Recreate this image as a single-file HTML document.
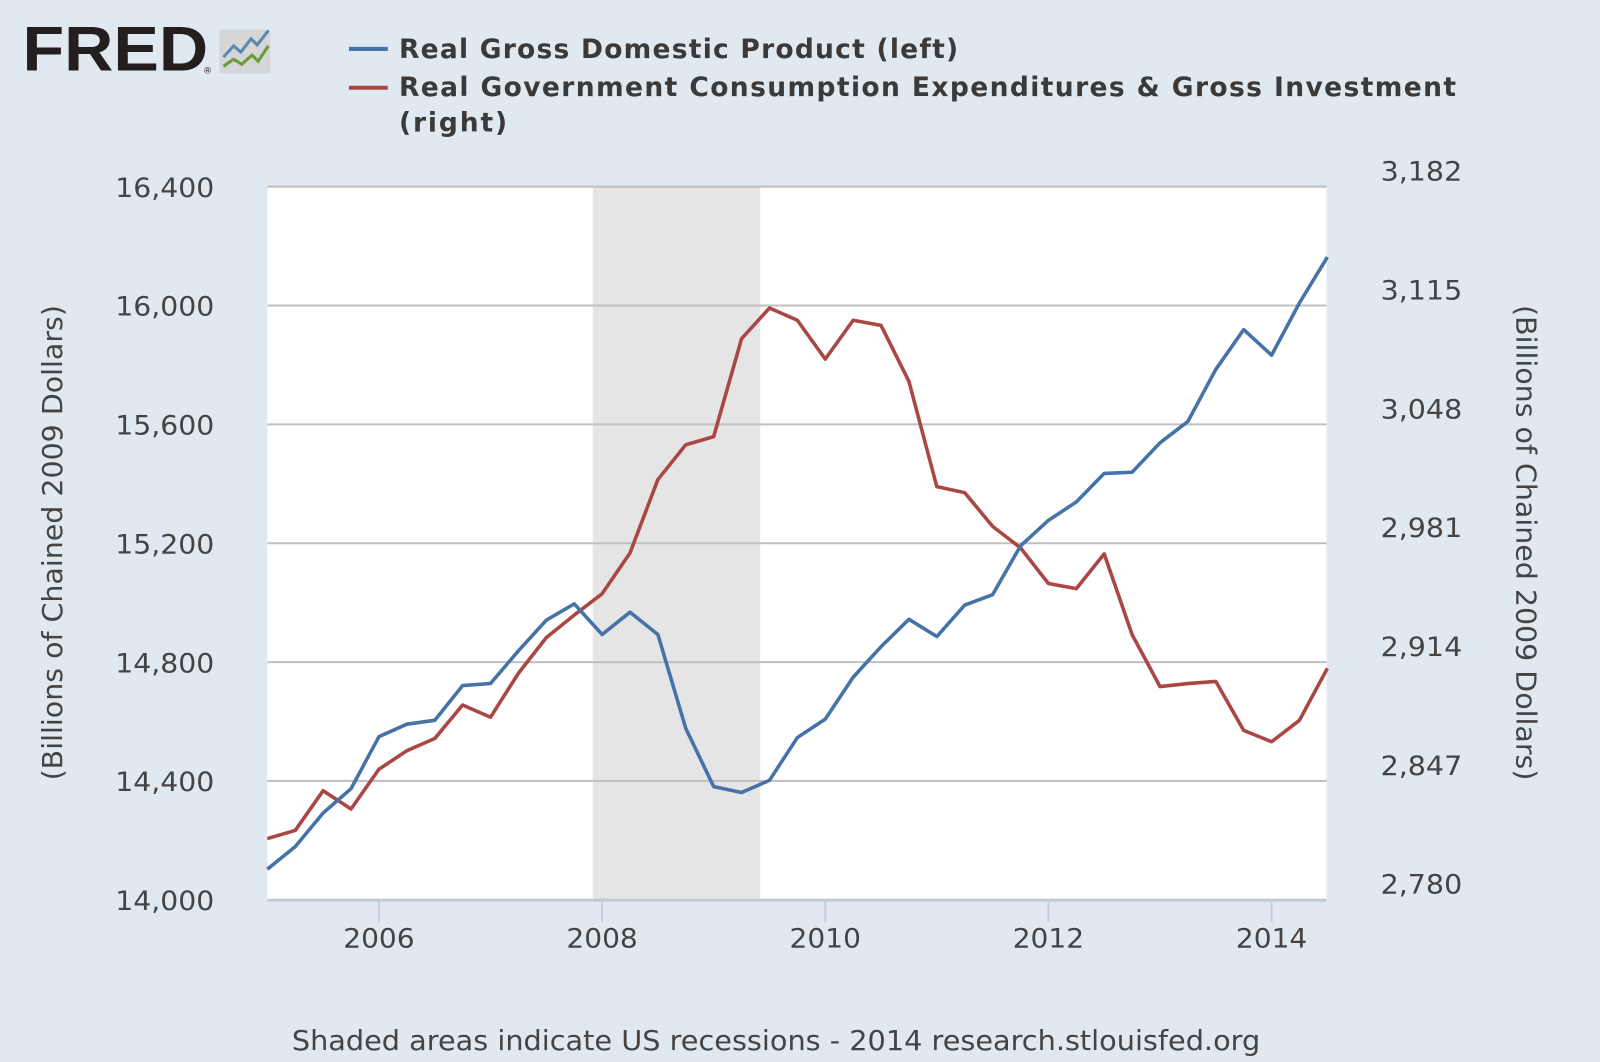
<!DOCTYPE html>
<html><head><meta charset="utf-8"><style>
html,body{margin:0;padding:0;background:#e1e9f0;}
svg{display:block;font-family:"DejaVu Sans","Liberation Sans",sans-serif;}
</style></head><body>
<svg id="chart" width="1600" height="1062" viewBox="0 0 1568 1041" preserveAspectRatio="none">
<rect x="0" y="0" width="1568" height="1041" fill="#e1e9f0"/>
<g>
<text x="22" y="69" font-family="Liberation Sans, sans-serif" font-weight="bold" font-size="62" fill="#231f20" textLength="182" lengthAdjust="spacingAndGlyphs">FRED</text>
<text x="199" y="72" font-size="9" fill="#231f20">®</text>
<rect x="215" y="29" width="50" height="43" rx="3" fill="#d4d6d8"/>
<polyline points="219,56 229,45 236,51 246,38 252,44 263,30" fill="none" stroke="#5a8ab0" stroke-width="3"/>
<polyline points="219,65 229,58 237,63 247,54 253,60 263,45" fill="none" stroke="#6a9c3a" stroke-width="3"/>
</g>
<g>
<line x1="342" y1="48" x2="380" y2="48" stroke="#4572a7" stroke-width="4"/>
<text x="391" y="57" font-weight="bold" font-size="26" fill="#3a3a3a" textLength="548" lengthAdjust="spacing">Real Gross Domestic Product (left)</text>
<line x1="342" y1="86" x2="380" y2="86" stroke="#aa4643" stroke-width="4"/>
<text x="391" y="94" font-weight="bold" font-size="26" fill="#3a3a3a" textLength="1036" lengthAdjust="spacing">Real Government Consumption Expenditures &amp; Gross Investment</text>
<text x="391" y="129" font-weight="bold" font-size="26" fill="#3a3a3a" textLength="106" lengthAdjust="spacing">(right)</text>
</g>
<g id="plot"></g>
<text transform="translate(61,532) rotate(-90)" text-anchor="middle" font-size="27" fill="#444" textLength="466" lengthAdjust="spacingAndGlyphs">(Billions of Chained 2009 Dollars)</text>
<text transform="translate(1486,532) rotate(90)" text-anchor="middle" font-size="27" fill="#444" textLength="466" lengthAdjust="spacingAndGlyphs">(Billions of Chained 2009 Dollars)</text>
<text x="286" y="1029" font-size="27" fill="#444" textLength="949" lengthAdjust="spacingAndGlyphs">Shaded areas indicate US recessions - 2014 research.stlouisfed.org</text>
</svg>
<script>
const gdpValues=[14103,14179,14292,14374,14549,14591,14604,14721,14728,14838,14941,14996,14893,14968,14893,14577,14381,14361,14402,14546,14608,14749,14852,14944,14886,14992,15027,15191,15277,15339,15435,15439,15538,15610,15785,15919,15833,16009,16163];
const govValues=[2814.5,2819.1,2841.5,2831.2,2853.6,2864.0,2870.9,2889.8,2882.9,2907.7,2927.8,2940.5,2952.5,2975.5,3016.9,3036.5,3041.1,3096.3,3113.6,3106.7,3084.8,3106.7,3103.8,3072.2,3012.9,3009.5,2990.5,2978.4,2958.3,2955.4,2975.0,2929.5,2900.2,2901.9,2903.1,2875.5,2869.1,2881.2,2910.5];
const startYear=2005;
const leftTicks=[14000,14400,14800,15200,15600,16000,16400];
const leftTickLabels=["14,000","14,400","14,800","15,200","15,600","16,000","16,400"];
const rightTicks=[2780,2847,2914,2981,3048,3115,3182];
const rightTickLabels=["2,780","2,847","2,914","2,981","3,048","3,115","3,182"];
const xTicks=[2006,2008,2010,2012,2014];
const recessions=[[2007.917,2009.417]];

const NS="http://www.w3.org/2000/svg";
const plot=document.getElementById('plot');
const L=262,R=1300,T=183,B=882;
const x=t=>L+(t-2005)*109.35;
const yL=v=>B-(v-14000)/2400*(B-T);
const yR=v=>B-(v-2780)/402*(B-T);
function mk(tag,attrs){const e=document.createElementNS(NS,tag);for(const k in attrs)e.setAttribute(k,attrs[k]);plot.appendChild(e);return e;}
let bg=mk('rect',{x:L,y:T,width:R-L,height:B-T,fill:'#ffffff'});


recessions.forEach(r=>{const e=mk('rect',{x:x(r[0]),y:T,width:x(r[1])-x(r[0]),height:B-T,fill:'#e5e5e5'});

});
leftTicks.forEach((v,i)=>{const g=mk('line',{x1:L,x2:R,y1:yL(v),y2:yL(v),stroke:'#c0c0c0','stroke-width':2});


const t=mk('text',{x:210,y:yL(v)+10,'text-anchor':'end','font-size':26,fill:'#444',textLength:97,lengthAdjust:'spacingAndGlyphs'});t.textContent=leftTickLabels[i];

});
rightTicks.forEach((v,i)=>{const t=mk('text',{x:1393,y:yR(v)-6,'text-anchor':'middle','font-size':26,fill:'#444',textLength:80,lengthAdjust:'spacingAndGlyphs'});t.textContent=rightTickLabels[i];

});
const ax=mk('line',{x1:L,x2:R,y1:B+1,y2:B+1,stroke:'#c0d0e0','stroke-width':2});


xTicks.forEach(yr=>{const tk=mk('line',{x1:x(yr),x2:x(yr),y1:B,y2:B+22,stroke:'#c0d0e0','stroke-width':2});


const t=mk('text',{x:x(yr),y:B+47,'text-anchor':'middle','font-size':26,fill:'#444',textLength:70,lengthAdjust:'spacingAndGlyphs'});t.textContent=yr;

});
const qx=i=>x(startYear+i*0.25);
const gp=mk('polyline',{points:govValues.map((v,i)=>qx(i)+','+yR(v)).join(' '),fill:'none',stroke:'#aa4643','stroke-width':3.5,'stroke-linejoin':'round'});


const dp=mk('polyline',{points:gdpValues.map((v,i)=>qx(i)+','+yL(v)).join(' '),fill:'none',stroke:'#4572a7','stroke-width':3.5,'stroke-linejoin':'round'});


</script>
</body></html>
